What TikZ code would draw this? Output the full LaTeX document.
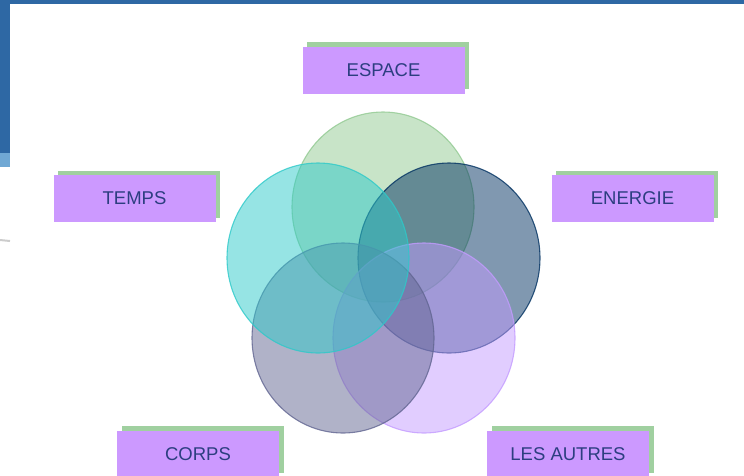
\documentclass[tikz,border=0pt]{standalone}
\usepackage{fontspec}
\setmainfont{Liberation Sans}
\usepackage{tikz}
\usetikzlibrary{shapes.geometric, shadows}
\usepackage{xcolor}

\definecolor{slideblue}{RGB}{46,104,164}
\definecolor{slidelight}{RGB}{112,168,212}
\definecolor{boxpurple}{RGB}{204,153,255}
\definecolor{boxgreen}{RGB}{160,208,160}
\definecolor{labelblue}{RGB}{44,62,128}
\definecolor{cgreen}{RGB}{145,201,145}
\definecolor{ccyan}{RGB}{45,201,201}
\definecolor{cnavy}{RGB}{1,49,97}
\definecolor{cgrey}{RGB}{97,101,145}
\definecolor{clilac}{RGB}{195,155,255}

\begin{document}
\begin{tikzpicture}[x=1pt,y=-1pt,
  bubble/.style={ellipse, minimum width=182pt, minimum height=190pt, inner sep=0pt,
    fill opacity=0.5, draw opacity=0.8, line width=1.1pt},
  tag/.style={rectangle, fill=boxpurple, minimum width=162pt, minimum height=47pt,
    inner sep=0pt, text=labelblue, font=\fontsize{18.5}{20}\selectfont,
    general shadow={shadow xshift=4.5pt, shadow yshift=4.5pt, fill=boxgreen}}]

\useasboundingbox (0,0) rectangle (744,475);

% Slide frame
\fill[slideblue] (0,0) rectangle (744,4);
\fill[slideblue] (0,0) rectangle (10,153);
\fill[slidelight] (0,153) rectangle (10,167);
\draw[gray!40,line width=2pt] (0,240) -- (10,241);

% Circles
\node[bubble, fill=cgreen, draw=cgreen] (espaceC) at (383,207) {};
\node[bubble, fill=cnavy, draw=cnavy] (energieC) at (449,258) {};
\node[bubble, fill=clilac, draw=clilac] (autresC) at (424,338) {};
\node[bubble, fill=cgrey, draw=cgrey] (corpsC) at (343,338) {};
\node[bubble, fill=ccyan, draw=ccyan] (tempsC) at (318,258) {};

% Labels
\node[tag] (espace) at (383.5,70) {ESPACE};
\node[tag] (temps) at (134.5,198.5) {TEMPS};
\node[tag] (energie) at (632.5,198.5) {ENERGIE};
\node[tag] (corps) at (198,454) {CORPS};
\node[tag] (autres) at (568,454) {LES AUTRES};

\end{tikzpicture}
\end{document}
